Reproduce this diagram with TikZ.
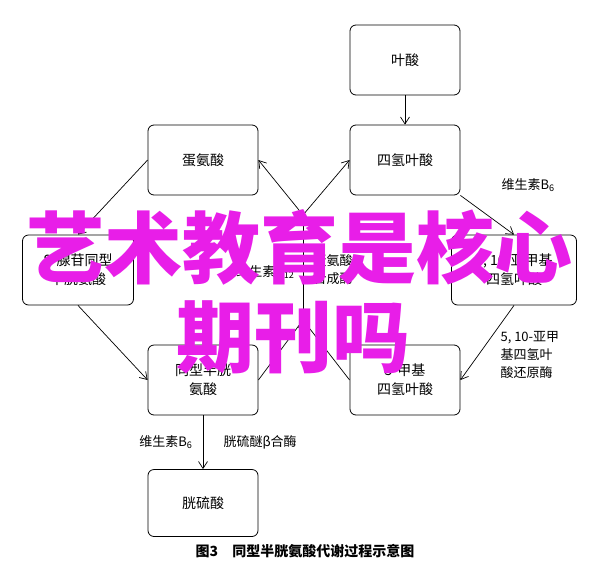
\documentclass[tikz,border=0pt]{standalone}
\usepackage{fontspec}
\setmainfont{Liberation Serif}
\newfontfamily\cjk{Noto Sans CJK SC}
\usetikzlibrary{arrows.meta}
\definecolor{wm}{RGB}{232,30,232}
\begin{document}
\begin{tikzpicture}[x=1pt,y=-1pt,
  box/.style={draw,rounded corners=6pt,line width=0.8pt,minimum width=110pt,minimum height=70pt,align=center,font=\cjk\fontsize{14}{19}\selectfont},
  lab/.style={align=left,font=\cjk\fontsize{13}{18}\selectfont},
  arr/.style={-{Straight Barb[length=7pt,width=9pt]},line width=0.7pt},
  ln/.style={line width=0.7pt}]
\fill[white] (0,0) rectangle (600,574);
\node[box] (ys) at (405,60) {叶酸};
\node[box] (dan) at (203,160) {蛋氨酸};
\node[box] (sq) at (405,160) {四氢叶酸};
\node[box,minimum width=111pt] (sx) at (78,270) {S-腺苷同型\\半胱氨酸};
\node[box,minimum width=125pt] (ya) at (514,270) {5, 10-亚甲基\\四氢叶酸};
\node[box] (tx) at (203,380) {同型半胱\\氨酸};
\node[box] (jj) at (405,380) {5-甲基\\四氢叶酸};
\node[box,minimum height=67pt] (gl) at (203,503) {胱硫酸};
\coordinate (j1) at (303,320);
\coordinate (j2) at (303,215);
\draw[arr] (ys) -- (sq);
\draw[arr] (sq.south east) -- (ya.north);
\draw[arr] (ya.south) -- (jj.east);
\draw[arr] (dan.west) -- (sx.north);
\draw[arr] (sx.south) -- (tx.west);
\draw[arr] (tx) -- (gl);
\draw[ln] (tx.east) -- (j1) -- (jj.west);
\draw[arr] (303,345) -- (j1);
\draw[ln] (j1) -- (j2);
\draw[arr] (j2) -- (dan.east);
\draw[arr] (j2) -- (sq.west);
\node[lab,anchor=east] (v12) at (298,272) {维生素B\textsubscript{12}};
\node[lab,anchor=west] (dh) at (310,270) {蛋氨酸\\合成酶};
\node[lab,anchor=west] (v6a) at (498,185) {维生素B\textsubscript{6}};
\node[lab,anchor=west] (hy) at (497,355) {5, 10-亚甲\\基四氢叶\\酸还原酶};
\node[lab,anchor=east] (v6b) at (196,442) {维生素B\textsubscript{6}};
\node[lab,anchor=west] (gm) at (220,442) {胱硫醚β合酶};
\node[font=\cjk\bfseries\fontsize{14}{18}\selectfont] (cap) at (305,551) {图3\quad 同型半胱氨酸代谢过程示意图};
\node[font=\cjk\bfseries\fontsize{78}{84}\selectfont,text=wm] (w1) at (300,247) {艺术教育是核心};
\node[font=\cjk\bfseries\fontsize{78}{84}\selectfont,text=wm] (w2) at (293,337) {期刊吗};
\end{tikzpicture}
\end{document}
